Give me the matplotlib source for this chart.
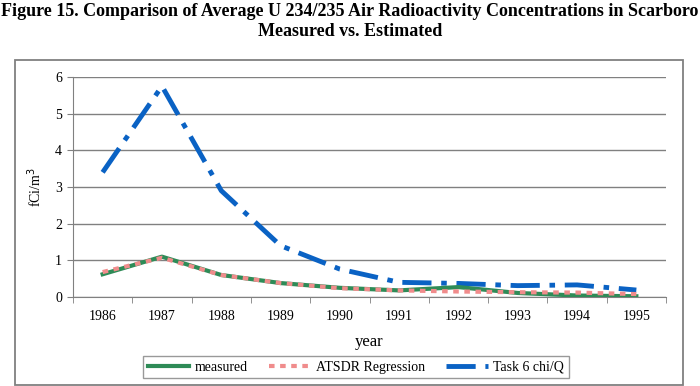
import matplotlib
matplotlib.use("Agg")
import matplotlib.pyplot as plt
from matplotlib.patches import Rectangle

years = ["1986", "1987", "1988", "1989", "1990", "1991", "1992", "1993", "1994", "1995"]
measured = [0.62, 1.10, 0.60, 0.38, 0.25, 0.18, 0.27, 0.11, 0.04, 0.02]
atsdr = [0.68, 1.07, 0.60, 0.38, 0.24, 0.18, 0.15, 0.13, 0.12, 0.08]
task6 = [3.40, 5.75, 2.90, 1.40, 0.76, 0.40, 0.37, 0.31, 0.33, 0.19]

plt.rcParams['font.family'] = ['Liberation Serif', 'DejaVu Serif']
plt.rcParams['lines.scale_dashes'] = False

fig = plt.figure(figsize=(7.0, 3.86), dpi=100)
ax = fig.add_axes([73 / 700, 1 - 297 / 386, 593 / 700, 220 / 386])

x = list(range(len(years)))
ax.plot(x, measured, color='#2E8B57', lw=3.0, label='measured', zorder=3)
ax.plot(x, atsdr, color='#F08C8C', lw=3.0, dashes=(4, 4), label='ATSDR Regression', zorder=4)
ax.plot(x, task6, color='#0A62C4', lw=3.5, dashes=(21, 7, 4, 7), label='Task 6 chi/Q', zorder=2)

ax.set_xlim(-0.5, len(years) - 0.5)
ax.set_ylim(0, 6)
ax.set_yticks(range(0, 7))
ax.set_xticks(x)
ax.set_xticklabels(years)
ax.set_xticks([i - 0.5 for i in range(len(years) + 1)], minor=True)
ax.tick_params(axis='x', which='major', length=0, pad=9, labelsize=10)
ax.tick_params(axis='x', which='minor', length=4, direction='out', color='#808080')
ax.tick_params(axis='y', length=4, direction='out', color='#808080', labelsize=10, pad=4)

ax.yaxis.grid(True, color='#808080', lw=1.0)
ax.set_axisbelow(True)
for s in ['top', 'right']:
    ax.spines[s].set_visible(False)
ax.spines['left'].set_color('#808080')
ax.spines['bottom'].set_color('#808080')

ax.set_ylabel('fCi/m$^3$', fontsize=10, labelpad=8)
ax.set_xlabel('year', fontsize=12, labelpad=8)

leg = ax.legend(loc='upper center', bbox_to_anchor=((356 - 73) / 593, -0.235), ncol=3,
                frameon=True, fancybox=False, edgecolor='#808080', fontsize=10,
                handlelength=3.0, columnspacing=1.5, borderpad=0.35, handletextpad=0.4)
leg.get_frame().set_linewidth(1.0)

fig.patches.append(Rectangle((15 / 700, 1 / 386), 668 / 700, 325 / 386, transform=fig.transFigure,
                             fill=False, edgecolor='#808080', lw=1.3))

fig.text(0.5, 1 - 12 / 386, 'Figure 15. Comparison of Average U 234/235 Air Radioactivity Concentrations in Scarboro',
         ha='center', va='center', fontsize=13, fontweight='bold')
fig.text(0.5, 1 - 31 / 386, 'Measured vs. Estimated', ha='center', va='center',
         fontsize=13, fontweight='bold')

fig.savefig('out.png', dpi=100)
